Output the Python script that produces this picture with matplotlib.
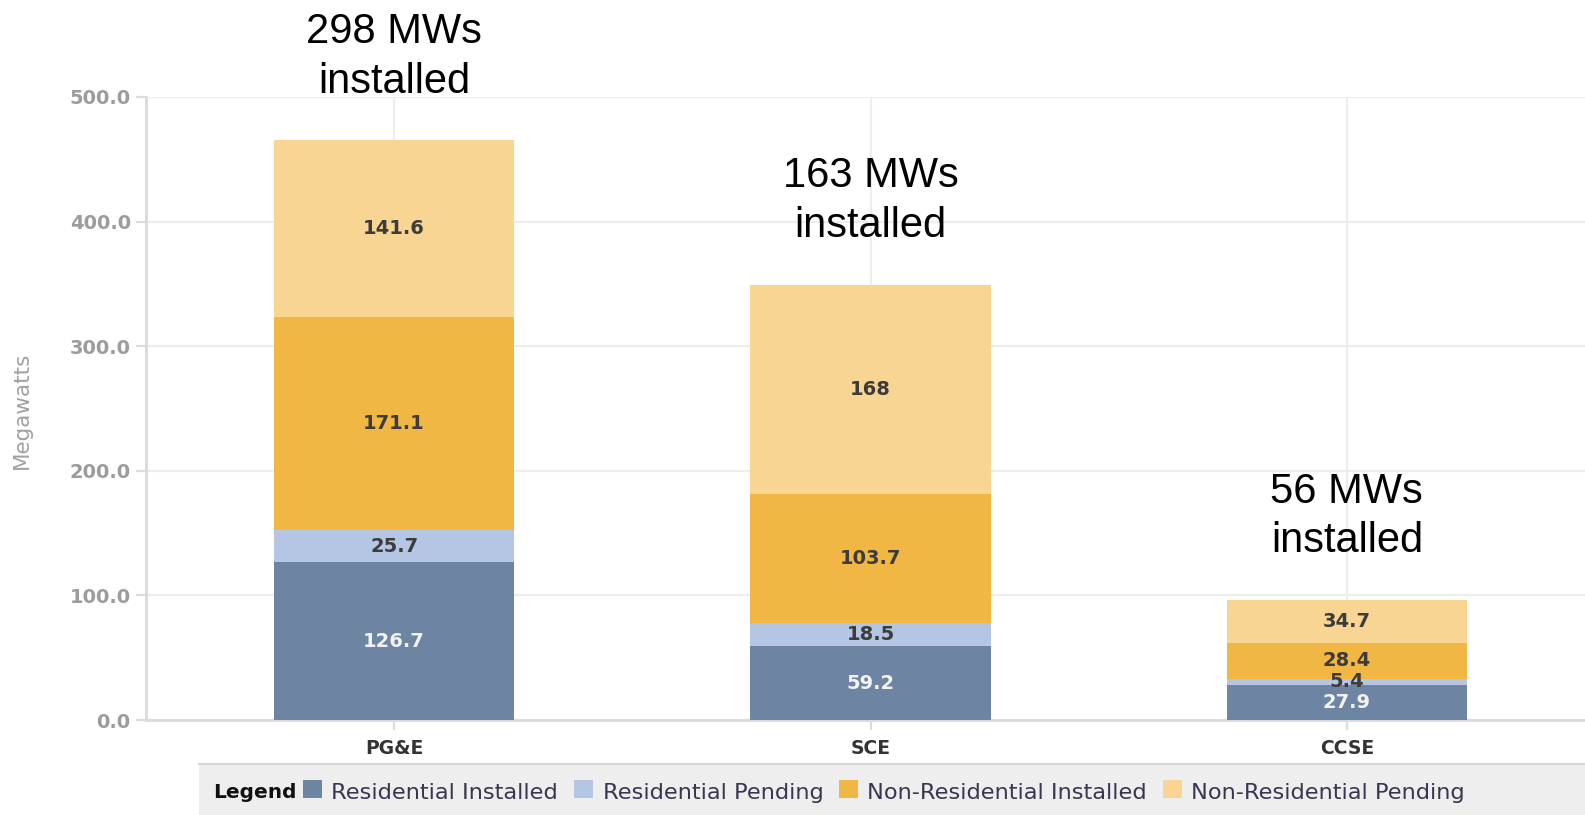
import matplotlib
matplotlib.use("Agg")
import matplotlib.pyplot as plt
from matplotlib.patches import Rectangle
import numpy as np

# ---- data ----
categories = ["PG&E", "SCE", "CCSE"]
series_names = ["Residential Installed", "Residential Pending",
                "Non-Residential Installed", "Non-Residential Pending"]
res_installed = [126.7, 59.2, 27.9]
res_pending = [25.7, 18.5, 5.4]
nonres_installed = [171.1, 103.7, 28.4]
nonres_pending = [141.6, 168, 34.7]
label_text = [
    ["126.7", "59.2", "27.9"],
    ["25.7", "18.5", "5.4"],
    ["171.1", "103.7", "28.4"],
    ["141.6", "168", "34.7"],
]
annotations = ["298 MWs\ninstalled", "163 MWs\ninstalled", "56 MWs\ninstalled"]
yticks = [0, 100, 200, 300, 400, 500]

colors = ["#6e84a3", "#b4c6e4", "#f0b745", "#f8d592"]
label_colors = ["#f2f2f2", "#3c3c3c", "#3c3c3c", "#3c3c3c"]

W, H = 1585, 815
fig = plt.figure(figsize=(W / 100, H / 100), dpi=100)

def fx(x):
    return x / W

def fy(y):
    return 1 - y / H

ax_left, ax_right, ax_top, ax_bottom = 146, 1585, 97, 720
ax = fig.add_axes([fx(ax_left), fy(ax_bottom), fx(ax_right - ax_left), (ax_bottom - ax_top) / H])

x = np.arange(len(categories))
series = [res_installed, res_pending, nonres_installed, nonres_pending]
bottom = np.zeros(len(categories))
for i, vals in enumerate(series):
    bars = ax.bar(x, vals, width=0.505, bottom=bottom, color=colors[i],
                  edgecolor="none", zorder=3, label=series_names[i])
    ax.bar_label(bars, labels=label_text[i], label_type="center",
                 color=label_colors[i], fontsize=14, fontweight="bold",
                 family="DejaVu Sans", zorder=4)
    bottom = bottom + np.array(vals)

totals = bottom
for xi, t, txt in zip(x, totals, annotations):
    ax.annotate(txt, xy=(xi, t), xytext=(0, 28), textcoords="offset points",
                ha="center", va="bottom", fontsize=30, family="Liberation Sans",
                color="black", linespacing=1.3, annotation_clip=False)

ax.set_xlim(-0.521, 2.5)
ax.set_ylim(0, 500)
ax.set_yticks(yticks)
ax.set_yticklabels([f"{v:.1f}" for v in yticks])
ax.set_xticks(x)
ax.set_xticklabels(categories)

grid_c = "#ededed"
ax.grid(True, color=grid_c, linewidth=1.6, zorder=0)
ax.set_axisbelow(True)
for s in ["top", "right"]:
    ax.spines[s].set_visible(False)
ax.spines["left"].set_color("#dcdcdc")
ax.spines["left"].set_linewidth(2.2)
ax.spines["bottom"].set_color("#dcdcdc")
ax.spines["bottom"].set_linewidth(2.2)
ax.spines["left"].set_zorder(1)

ax.tick_params(axis="y", length=7, width=1.6, color="#dcdcdc", pad=4,
               labelsize=14, labelcolor="#9c9c9c")
ax.tick_params(axis="x", length=7, width=1.6, color="#dcdcdc", pad=7,
               labelsize=13.5, labelcolor="#333333")
for lab in ax.get_yticklabels() + ax.get_xticklabels():
    lab.set_fontweight("bold")
    lab.set_family("DejaVu Sans")

fig.text(fx(22), fy(410), "Megawatts", rotation=90, ha="center", va="center",
         fontsize=15.5, color="#a0a0a0", family="DejaVu Sans")

# ---- legend strip ----
fig.patches.append(Rectangle((fx(199), 0), fx(W - 199), (H - 764) / H,
                             transform=fig.transFigure, facecolor="#eeeeee",
                             edgecolor="none", zorder=0))
fig.lines.append(plt.Line2D([fx(199), 1], [fy(764), fy(764)], transform=fig.transFigure,
                            color="#d6d6d6", linewidth=1.5))
ty = fy(793)
fig.text(fx(213), ty, "Legend", fontsize=14.5, fontweight="bold", color="#111111",
         ha="left", va="center", family="DejaVu Sans")
sq_x = [303, 574, 839, 1163]
tx_x = [331, 603, 867, 1191]
for i in range(4):
    fig.patches.append(Rectangle((fx(sq_x[i]), fy(798)), fx(18.5), 18.5 / H,
                                 transform=fig.transFigure, facecolor=colors[i],
                                 edgecolor="none", zorder=2))
    fig.text(fx(tx_x[i]), ty, series_names[i], fontsize=16.2, color="#3a3550",
             ha="left", va="center", family="DejaVu Sans")

fig.savefig("out.png", dpi=100)
